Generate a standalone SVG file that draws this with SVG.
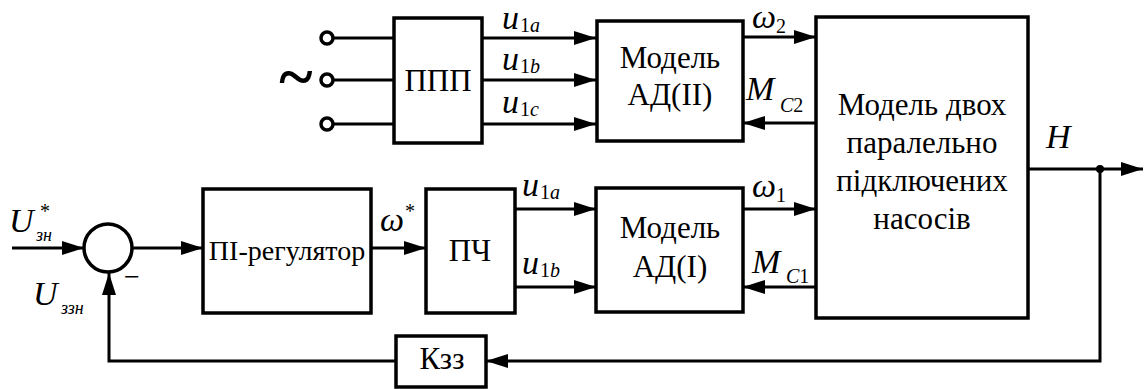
<svg xmlns="http://www.w3.org/2000/svg" width="1148" height="389" viewBox="0 0 1148 389">
<style>
.box{fill:#fff;stroke:#000;stroke-width:3.5}
.ln{fill:none;stroke:#000;stroke-width:3}
.arr{fill:none;stroke:#000;stroke-width:3;marker-end:url(#ah)}
.t{font-size:31px}
.s28{font-size:28px}
.s18{font-size:18px;font-style:italic}
.tl{font-size:64px;font-weight:bold}
.c{text-anchor:middle}
.v{font-style:italic}
.big{font-size:34px}
.sub{font-size:20px}
</style>
<defs>
<marker id="ah" markerUnits="userSpaceOnUse" markerWidth="22" markerHeight="14" refX="22" refY="7" orient="auto">
<path d="M0,0 L22,7 L0,14 z" fill="#000"/>
</marker>
</defs>
<rect width="1148" height="389" fill="#fff"/>

<g id="connectors">
<line class="ln" x1="333" y1="38" x2="394" y2="38"/>
<line class="ln" x1="333" y1="80" x2="394" y2="80"/>
<line class="ln" x1="333" y1="124" x2="394" y2="124"/>
<line class="arr" x1="482" y1="38" x2="596" y2="38"/>
<line class="arr" x1="482" y1="80" x2="596" y2="80"/>
<line class="arr" x1="482" y1="124" x2="596" y2="124"/>
<line class="arr" x1="743" y1="37" x2="816" y2="37"/>
<line class="arr" x1="816" y1="123" x2="743" y2="123"/>
<line class="arr" x1="12" y1="248" x2="84" y2="248"/>
<line class="arr" x1="132" y1="248" x2="203" y2="248"/>
<line class="arr" x1="371" y1="248" x2="426" y2="248"/>
<line class="arr" x1="515" y1="209" x2="596" y2="209"/>
<line class="arr" x1="515" y1="287" x2="596" y2="287"/>
<line class="arr" x1="743" y1="209" x2="816" y2="209"/>
<line class="arr" x1="816" y1="287" x2="743" y2="287"/>
<line class="arr" x1="1028" y1="169" x2="1143" y2="169"/>
<polyline class="arr" points="1100,169 1100,361 486,361"/>
<polyline class="arr" points="396,361 109,361 109,273"/>
<circle cx="1100" cy="169" r="4" fill="#000"/>
</g>

<g id="src1"><circle cx="327" cy="38" r="6" fill="#fff" stroke="#000" stroke-width="3.5"/></g>
<g id="src2"><circle cx="327" cy="80" r="6" fill="#fff" stroke="#000" stroke-width="3.5"/></g>
<g id="src3"><circle cx="327" cy="124" r="6" fill="#fff" stroke="#000" stroke-width="3.5"/></g>
<text font-family="Liberation Serif" class="tl c" x="296" y="98">~</text>

<g id="ppp">
<rect class="box" x="394" y="18" width="88" height="125"/>
<text font-family="Liberation Serif" class="t c" x="438" y="91">ППП</text>
</g>

<g id="ad2">
<rect class="box" x="597" y="21" width="146" height="120"/>
<text font-family="Liberation Serif" class="t c" x="670" y="68">Модель</text>
<text font-family="Liberation Serif" class="t c" x="670" y="105">АД(II)</text>
</g>

<g id="pumps">
<rect class="box" x="816" y="17" width="212" height="301"/>
<text font-family="Liberation Serif" class="t c" x="922" y="115">Модель двох</text>
<text font-family="Liberation Serif" class="t c" x="922" y="153">паралельно</text>
<text font-family="Liberation Serif" class="t c" x="922" y="191">підключених</text>
<text font-family="Liberation Serif" class="t c" x="922" y="229">насосів</text>
</g>

<g id="sum">
<circle cx="108" cy="248" r="24" fill="#fff" stroke="#000" stroke-width="3.5"/>
</g>

<g id="pi">
<rect class="box" x="203" y="189" width="168" height="124"/>
<text font-family="Liberation Serif" class="s28 c" x="287" y="260">ПІ-регулятор</text>
</g>

<g id="pch">
<rect class="box" x="426" y="189" width="89" height="124"/>
<text font-family="Liberation Serif" class="t c" x="470" y="261">ПЧ</text>
</g>

<g id="ad1">
<rect class="box" x="596" y="188" width="147" height="124"/>
<text font-family="Liberation Serif" class="t c" x="670" y="238">Модель</text>
<text font-family="Liberation Serif" class="t c" x="670" y="277">АД(I)</text>
</g>

<g id="kzz">
<rect class="box" x="396" y="336" width="90" height="51"/>
<text font-family="Liberation Serif" class="t c" x="442" y="369">Кзз</text>
</g>

<g id="labels">
<text font-family="Liberation Serif" class="v big" x="502" y="29">u</text><text font-family="Liberation Serif" class="v sub" x="520" y="32"><tspan font-style="normal">1</tspan>a</text>
<text font-family="Liberation Serif" class="v big" x="502" y="70">u</text><text font-family="Liberation Serif" class="v sub" x="520" y="73"><tspan font-style="normal">1</tspan>b</text>
<text font-family="Liberation Serif" class="v big" x="502" y="113">u</text><text font-family="Liberation Serif" class="v sub" x="520" y="116"><tspan font-style="normal">1</tspan>c</text>
<text font-family="Liberation Serif" class="v big" x="522" y="196">u</text><text font-family="Liberation Serif" class="v sub" x="540" y="199"><tspan font-style="normal">1</tspan>a</text>
<text font-family="Liberation Serif" class="v big" x="522" y="274">u</text><text font-family="Liberation Serif" class="v sub" x="540" y="277"><tspan font-style="normal">1</tspan>b</text>
<text font-family="Liberation Serif" class="v big" x="752" y="28">ω</text><text font-family="Liberation Serif" class="sub" x="776" y="33">2</text>
<text font-family="Liberation Serif" class="v big" x="752" y="197">ω</text><text font-family="Liberation Serif" class="sub" x="776" y="202">1</text>
<text font-family="Liberation Serif" class="v big" x="746" y="100">M</text><text font-family="Liberation Serif" class="v sub" x="780" y="112">C<tspan font-style="normal">2</tspan></text>
<text font-family="Liberation Serif" class="v big" x="752" y="273">M</text><text font-family="Liberation Serif" class="v sub" x="786" y="283">C<tspan font-style="normal">1</tspan></text>
<text font-family="Liberation Serif" class="v big" x="380" y="231">ω</text><text font-family="Liberation Serif" class="sub" x="405" y="218">*</text>
<text font-family="Liberation Serif" class="v big" x="1046" y="148">H</text>
<text font-family="Liberation Serif" class="v big" x="9" y="232">U</text><text font-family="Liberation Serif" class="sub" x="40" y="218">*</text><text font-family="Liberation Serif" class="s18" x="36" y="241">зн</text>
<text font-family="Liberation Serif" class="v big" x="33" y="305">U</text><text font-family="Liberation Serif" class="s18" x="61" y="314">ззн</text>
<text font-family="Liberation Serif" class="s28" x="124" y="286">−</text>
</g>
</svg>
